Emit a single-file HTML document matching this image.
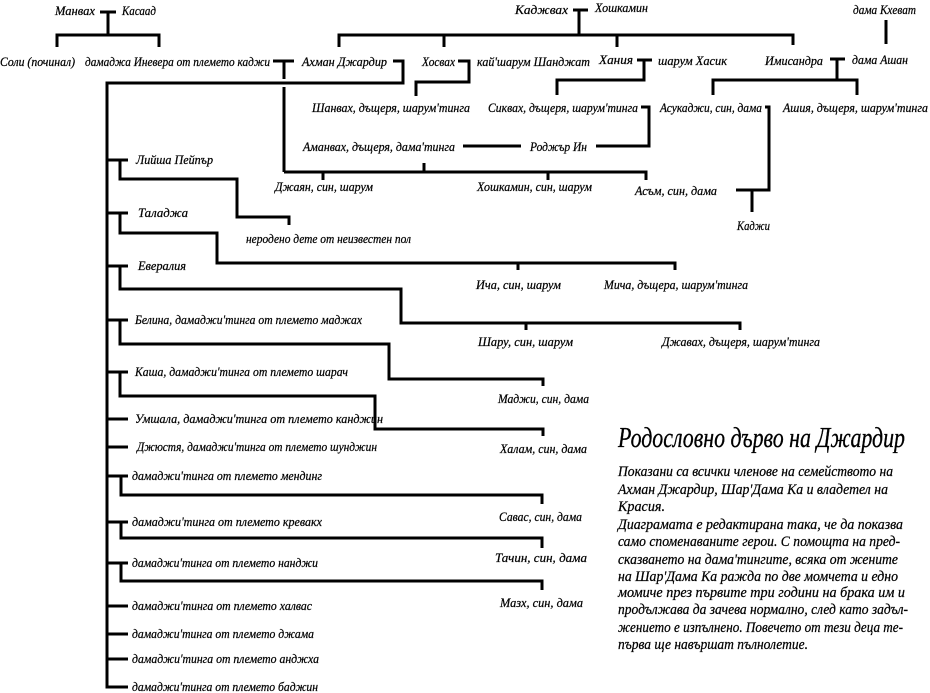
<!DOCTYPE html>
<html><head><meta charset="utf-8"><style>
html,body{margin:0;padding:0;background:#fff;}
svg{display:block;}
text{font-family:"Liberation Serif",serif;font-style:italic;font-size:13px;fill:#000;stroke:#000;stroke-width:0.25px;}
.t{font-size:28px;stroke-width:0.3px;}
.p{font-size:15px;}
line,polyline{stroke:#000;stroke-width:3;fill:none;}
</style></head><body>
<svg width="930" height="693" viewBox="0 0 930 693" xmlns="http://www.w3.org/2000/svg">
<polyline points="100,12 116,12"/><line x1="108" y1="12" x2="108" y2="35"/>
<polyline points="57,47 57,35 159,35 159,47"/>
<polyline points="273,61 294,61"/><line x1="284" y1="61" x2="284" y2="79"/><line x1="284" y1="87" x2="284" y2="172"/>
<polyline points="393,61 403,61 403,83 107,83 107,687 128,687"/>
<polyline points="458,61 469,61 469,82 416,82 416,96"/>
<polyline points="573,10 588,10"/><line x1="579" y1="10" x2="579" y2="35"/>
<polyline points="339,47 339,35 793,35 793,45"/><line x1="444" y1="35" x2="444" y2="47"/><line x1="617" y1="35" x2="617" y2="47"/>
<polyline points="637,60 652,60"/><polyline points="644,60 644,80 557,80 557,95"/>
<polyline points="641,107 649,107 649,146 596,146"/><line x1="463" y1="146" x2="521" y2="146"/>
<polyline points="284,172 646,172 646,180"/><line x1="323" y1="172" x2="323" y2="180"/><line x1="424" y1="163" x2="424" y2="172"/><line x1="548" y1="172" x2="548" y2="180"/>
<line x1="886" y1="20" x2="886" y2="44"/>
<polyline points="830,59 845,59"/><line x1="837" y1="59" x2="837" y2="80"/>
<polyline points="713,95 713,80 857,80 857,95"/>
<polyline points="765,107 769,107 769,190 736,190"/><line x1="752" y1="190" x2="752" y2="212"/>
<line x1="107" y1="160" x2="128" y2="160"/><polyline points="120,160 120,179 237,179 237,217 289,217 289,225"/>
<line x1="107" y1="213" x2="128" y2="213"/><polyline points="120,213 120,233 217,233 217,263 675,263 675,270"/><line x1="518" y1="263" x2="518" y2="270"/>
<line x1="107" y1="266" x2="128" y2="266"/><polyline points="120,266 120,289 401,289 401,323 740,323 740,330"/><line x1="526" y1="323" x2="526" y2="330"/>
<line x1="107" y1="320" x2="128" y2="320"/><polyline points="120,320 120,344 389,344 389,379 543,379 543,386"/>
<line x1="107" y1="372" x2="128" y2="372"/><polyline points="120,372 120,396 375,396 375,429 543,429 543,436"/>
<line x1="107" y1="419" x2="128" y2="419"/>
<line x1="107" y1="447" x2="128" y2="447"/>
<line x1="107" y1="476" x2="128" y2="476"/><polyline points="121,476 121,495 542,495 542,504"/>
<line x1="107" y1="522" x2="128" y2="522"/><polyline points="121,522 121,538 542,538 542,548"/>
<line x1="107" y1="563" x2="128" y2="563"/><polyline points="121,563 121,581 542,581 542,590"/>
<line x1="107" y1="606" x2="128" y2="606"/>
<line x1="107" y1="634" x2="128" y2="634"/>
<line x1="107" y1="659" x2="128" y2="659"/>
<g>
<text x="55" y="15" textLength="40" lengthAdjust="spacingAndGlyphs">Манвах</text>
<text x="122" y="15" textLength="34" lengthAdjust="spacingAndGlyphs">Касаад</text>
<text x="0" y="66" textLength="75" lengthAdjust="spacingAndGlyphs">Соли (починал)</text>
<text x="85" y="66" textLength="185" lengthAdjust="spacingAndGlyphs">дамаджа Иневера от племето каджи</text>
<text x="302" y="66" textLength="85" lengthAdjust="spacingAndGlyphs">Ахман Джардир</text>
<text x="422" y="66" textLength="33" lengthAdjust="spacingAndGlyphs">Хосвах</text>
<text x="477" y="66" textLength="113" lengthAdjust="spacingAndGlyphs">кай'шарум Шанджат</text>
<text x="515" y="14" textLength="53" lengthAdjust="spacingAndGlyphs">Каджвах</text>
<text x="595" y="12" textLength="53" lengthAdjust="spacingAndGlyphs">Хошкамин</text>
<text x="599" y="64" textLength="34" lengthAdjust="spacingAndGlyphs">Хания</text>
<text x="658" y="65" textLength="69" lengthAdjust="spacingAndGlyphs">шарум Хасик</text>
<text x="765" y="65" textLength="58" lengthAdjust="spacingAndGlyphs">Имисандра</text>
<text x="852" y="64" textLength="56" lengthAdjust="spacingAndGlyphs">дама Ашан</text>
<text x="853" y="14" textLength="63" lengthAdjust="spacingAndGlyphs">дама Кхеват</text>
<text x="312" y="112" textLength="158" lengthAdjust="spacingAndGlyphs">Шанвах, дъщеря, шарум'тинга</text>
<text x="488" y="112" textLength="150" lengthAdjust="spacingAndGlyphs">Сиквах, дъщеря, шарум'тинга</text>
<text x="660" y="112" textLength="102" lengthAdjust="spacingAndGlyphs">Асукаджи, син, дама</text>
<text x="783" y="112" textLength="145" lengthAdjust="spacingAndGlyphs">Ашия, дъщеря, шарум'тинга</text>
<text x="303" y="151" textLength="152" lengthAdjust="spacingAndGlyphs">Аманвах, дъщеря, дама'тинга</text>
<text x="530" y="151" textLength="57" lengthAdjust="spacingAndGlyphs">Роджър Ин</text>
<text x="275" y="191" textLength="98" lengthAdjust="spacingAndGlyphs">Джаян, син, шарум</text>
<text x="477" y="191" textLength="115" lengthAdjust="spacingAndGlyphs">Хошкамин, син, шарум</text>
<text x="635" y="195" textLength="82" lengthAdjust="spacingAndGlyphs">Асъм, син, дама</text>
<text x="737" y="230" textLength="33" lengthAdjust="spacingAndGlyphs">Каджи</text>
<text x="136" y="164" textLength="77" lengthAdjust="spacingAndGlyphs">Лийша Пейпър</text>
<text x="138" y="217" textLength="50" lengthAdjust="spacingAndGlyphs">Таладжа</text>
<text x="246" y="243" textLength="165" lengthAdjust="spacingAndGlyphs">неродено дете от неизвестен пол</text>
<text x="138" y="270" textLength="48" lengthAdjust="spacingAndGlyphs">Евералия</text>
<text x="476" y="289" textLength="85" lengthAdjust="spacingAndGlyphs">Ича, син, шарум</text>
<text x="604" y="289" textLength="144" lengthAdjust="spacingAndGlyphs">Мича, дъщера, шарум'тинга</text>
<text x="135" y="324" textLength="227" lengthAdjust="spacingAndGlyphs">Белина, дамаджи'тинга от племето маджах</text>
<text x="478" y="346" textLength="95" lengthAdjust="spacingAndGlyphs">Шару, син, шарум</text>
<text x="662" y="346" textLength="158" lengthAdjust="spacingAndGlyphs">Джавах, дъщеря, шарум'тинга</text>
<text x="135" y="376" textLength="213" lengthAdjust="spacingAndGlyphs">Каша, дамаджи'тинга от племето шарач</text>
<text x="498" y="403" textLength="91" lengthAdjust="spacingAndGlyphs">Маджи, син, дама</text>
<text x="135" y="423" textLength="248" lengthAdjust="spacingAndGlyphs">Умшала, дамаджи'тинга от племето канджин</text>
<text x="137" y="451" textLength="240" lengthAdjust="spacingAndGlyphs">Джюстя, дамаджи'тинга от племето шунджин</text>
<text x="500" y="453" textLength="87" lengthAdjust="spacingAndGlyphs">Халам, син, дама</text>
<text x="132" y="480" textLength="190" lengthAdjust="spacingAndGlyphs">дамаджи'тинга от племето мендинг</text>
<text x="499" y="521" textLength="83" lengthAdjust="spacingAndGlyphs">Савас, син, дама</text>
<text x="132" y="526" textLength="190" lengthAdjust="spacingAndGlyphs">дамаджи'тинга от племето кревакх</text>
<text x="495" y="562" textLength="92" lengthAdjust="spacingAndGlyphs">Тачин, син, дама</text>
<text x="132" y="567" textLength="186" lengthAdjust="spacingAndGlyphs">дамаджи'тинга от племето нанджи</text>
<text x="500" y="607" textLength="83" lengthAdjust="spacingAndGlyphs">Мазх, син, дама</text>
<text x="132" y="610" textLength="180" lengthAdjust="spacingAndGlyphs">дамаджи'тинга от племето халвас</text>
<text x="132" y="638" textLength="182" lengthAdjust="spacingAndGlyphs">дамаджи'тинга от племето джама</text>
<text x="132" y="663" textLength="187" lengthAdjust="spacingAndGlyphs">дамаджи'тинга от племето анджха</text>
<text x="132" y="691" textLength="186" lengthAdjust="spacingAndGlyphs">дамаджи'тинга от племето баджин</text>
<text class="t" x="618" y="447" textLength="287" lengthAdjust="spacingAndGlyphs">Родословно дърво на Джардир</text>
<text class="p" x="618" y="476" textLength="275" lengthAdjust="spacingAndGlyphs">Показани са всички членове на семейството на</text>
<text class="p" x="618" y="494" textLength="270" lengthAdjust="spacingAndGlyphs">Ахман Джардир, Шар'Дама Ка и владетел на</text>
<text class="p" x="618" y="511" textLength="47" lengthAdjust="spacingAndGlyphs">Красия.</text>
<text class="p" x="618" y="529" textLength="285" lengthAdjust="spacingAndGlyphs">Диаграмата е редактирана така, че да показва</text>
<text class="p" x="618" y="546" textLength="282" lengthAdjust="spacingAndGlyphs">само споменаваните герои. С помощта на пред-</text>
<text class="p" x="618" y="564" textLength="280" lengthAdjust="spacingAndGlyphs">сказването на дама'тингите, всяка от жените</text>
<text class="p" x="618" y="581" textLength="280" lengthAdjust="spacingAndGlyphs">на Шар'Дама Ка ражда по две момчета и едно</text>
<text class="p" x="618" y="597" textLength="287" lengthAdjust="spacingAndGlyphs">момиче през първите три години на брака им и</text>
<text class="p" x="618" y="614" textLength="290" lengthAdjust="spacingAndGlyphs">продължава да зачева нормално, след като задъл-</text>
<text class="p" x="618" y="632" textLength="285" lengthAdjust="spacingAndGlyphs">жението е изпълнено. Повечето от тези деца те-</text>
<text class="p" x="618" y="649" textLength="190" lengthAdjust="spacingAndGlyphs">първа ще навършат пълнолетие.</text>
</g>
</svg>
</body></html>
